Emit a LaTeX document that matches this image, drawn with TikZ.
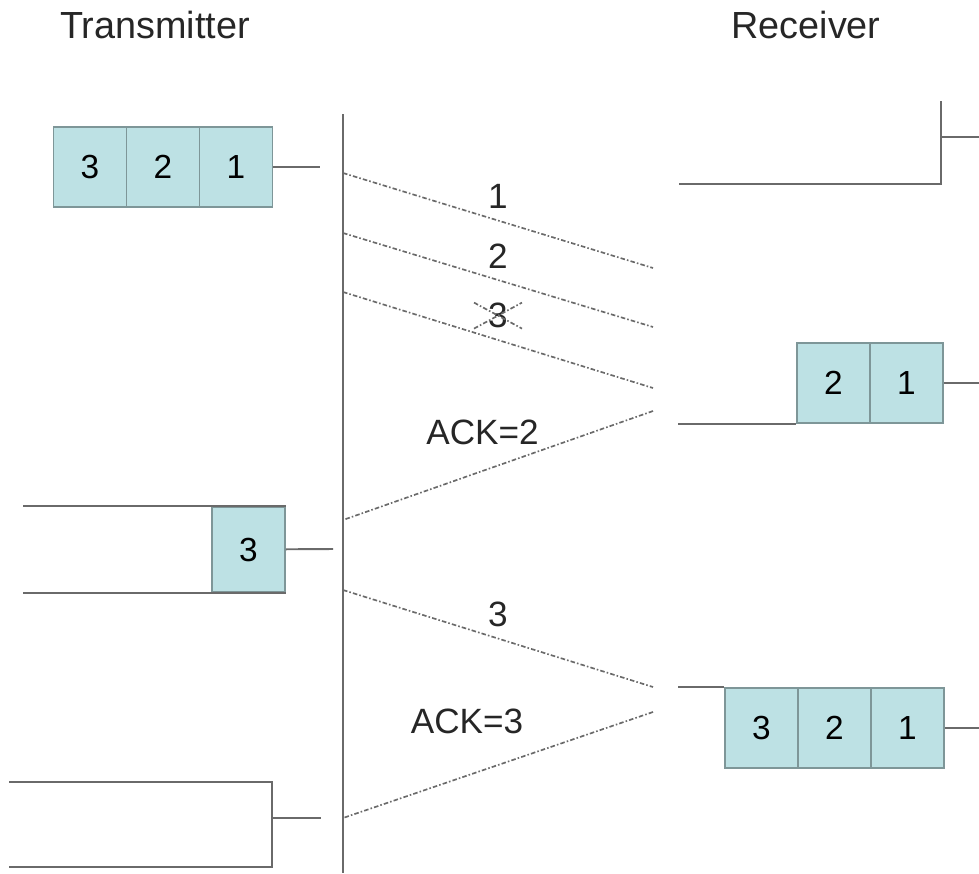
\documentclass[tikz,border=0pt]{standalone}
\usepackage{fontspec}
\setmainfont{Liberation Sans}
\usepackage{xcolor}
\usepackage{tikz}

\definecolor{boxfill}{HTML}{BDE1E4}
\definecolor{boxline}{HTML}{7E9698}
\definecolor{wiregray}{HTML}{6A6A6A}

\tikzset{
  pkt/.style={draw=boxline, fill=boxfill, line width=1pt, inner sep=0pt,
    minimum width=1.46cm, minimum height=1.6cm, font=\fontsize{19}{22}\selectfont},
  wire/.style={draw=wiregray, line width=1.1pt},
  msg/.style={draw=wiregray, line width=0.95pt,
    dash pattern=on 2.6pt off 1.2pt on 0.9pt off 1.2pt},
  lbl/.style={font=\fontsize{20}{24}\selectfont, text=black!85},
  ttl/.style={font=\fontsize{21.5}{25}\selectfont, text=black!85}
}

\begin{document}
\begin{tikzpicture}[>=latex, x=0.2mm, y=-0.2mm, node distance=1.46cm]
  \useasboundingbox (0,0) rectangle (979,873);

  \node[ttl] (tx) at (155,25) {Transmitter};
  \node[ttl] (rx) at (806,25) {Receiver};

  \coordinate (top) at (343,114);
  \coordinate (bot) at (343,873);
  \draw[wire] (top) -- (bot);

  % transmitter windows
  \node[pkt] (T1) at (236,167) {1};
  \node[pkt, left of=T1] (T2) {2};
  \node[pkt, left of=T2] (T3) {3};
  \coordinate (t1) at (320,167);
  \draw[wire] (T1) -- (t1);

  \node[pkt, minimum height=1.7cm] (U3) at (248.5,549.5) {3};
  \draw[wire] (U3.north east) -- ++(-263,0);
  \draw[wire] (U3.south east) -- ++(-263,0);
  \coordinate (t2) at (333,549);
  \draw[wire] (U3) -- (t2);

  \draw[wire] (9,782) -- (272,782) -- (272,867) -- (9,867);
  \coordinate (w3) at (272,818);
  \coordinate (t3) at (321,818);
  \draw[wire] (w3) -- (t3);

  % receiver windows
  \draw[wire] (941,101) -- (941,184) -- (679,184);
  \coordinate (v1) at (941,137);
  \coordinate (r0) at (979,137);
  \draw[wire] (v1) -- (r0);

  \node[pkt] (Q1) at (906.5,383) {1};
  \node[pkt, left of=Q1] (Q2) {2};
  \draw[wire] (Q2.south west) -- ++(-118,0);
  \coordinate (q0) at (979,383);
  \draw[wire] (Q1) -- (q0);

  \node[pkt] (P1) at (907.5,728) {1};
  \node[pkt, left of=P1] (P2) {2};
  \node[pkt, left of=P2] (P3) {3};
  \draw[wire] (P3.north west) -- ++(-46,0);
  \coordinate (p0) at (979,728);
  \draw[wire] (P1) -- (p0);

  % segments and acks
  \coordinate (s1) at (343,173);  \coordinate (r1) at (653,268);
  \coordinate (s2) at (343,233);  \coordinate (r2) at (653,327);
  \coordinate (s3) at (343,292);  \coordinate (r3) at (653,388);
  \coordinate (a2r) at (653,411); \coordinate (a2s) at (343,520);
  \coordinate (s4) at (343,590);  \coordinate (r4) at (653,687);
  \coordinate (a3r) at (653,712); \coordinate (a3s) at (343,818);

  \draw[msg] (s1) -- node[lbl, above=3pt] (m1) {1} (r1);
  \draw[msg] (s2) -- node[lbl, above=3pt] (m2) {2} (r2);
  \draw[msg] (s3) -- node[lbl, above=3pt] (m3) {3} (r3);
  \draw[msg] (m3.center) +(-24,-13) -- +(24,13) (m3.center) +(-24,13) -- +(24,-13);
  \draw[msg] (a2r) -- node[lbl, pos=0.55, above=11pt] (k2) {ACK=2} (a2s);
  \draw[msg] (s4) -- node[lbl, above=3pt] (m4) {3} (r4);
  \draw[msg] (a3r) -- node[lbl, pos=0.6, above=20pt] (k3) {ACK=3} (a3s);
\end{tikzpicture}
\end{document}
